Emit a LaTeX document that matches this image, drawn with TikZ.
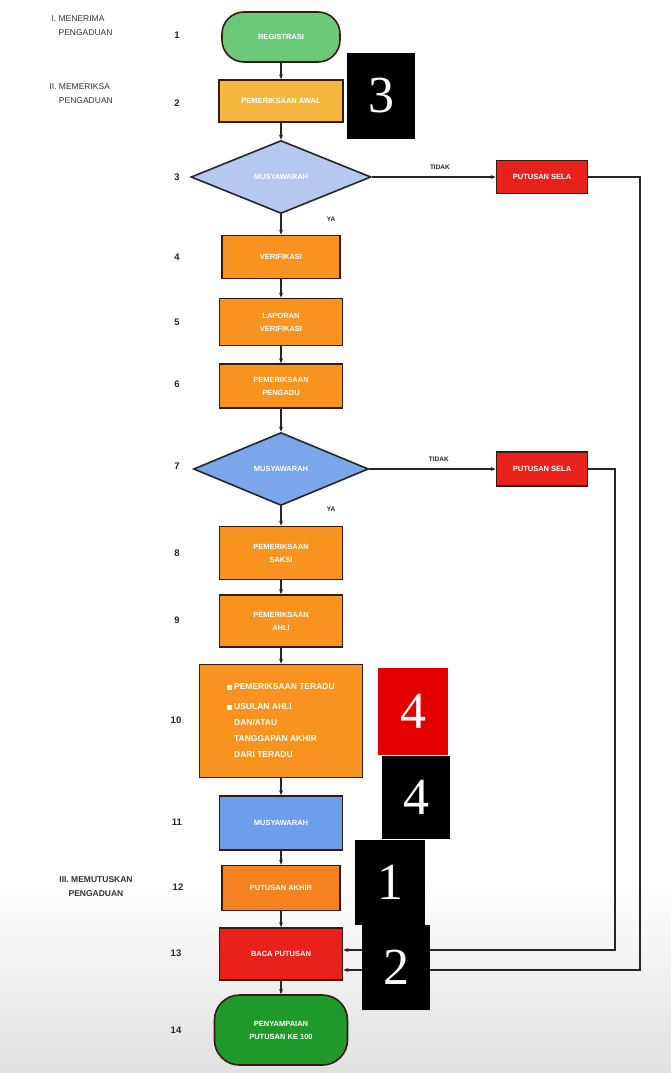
\documentclass[tikz,border=0pt]{standalone}
\usepackage{fontspec}
\setmainfont{Liberation Sans}
\newfontfamily\bignum{Liberation Serif}
\usetikzlibrary{shapes.geometric,arrows.meta}
\definecolor{gA}{HTML}{6CC97A}
\definecolor{yA}{HTML}{F5B83D}
\definecolor{oA}{HTML}{F7931E}
\definecolor{oB}{HTML}{F58220}
\definecolor{rA}{HTML}{E8221A}
\definecolor{bA}{HTML}{B5C8F0}
\definecolor{bB}{HTML}{6D9EEB}
\definecolor{gB}{HTML}{1F9A2A}
\definecolor{edge}{HTML}{3A1A10}
\newcommand{\bulsq}{\rule{4.5pt}{4.5pt}}
\begin{document}
\begin{tikzpicture}[x=1pt,y=-1pt,
  box/.style={draw=edge, line width=1.6pt, inner sep=1pt, align=center,
    text=white, font=\bfseries\fontsize{7.5}{13}\selectfont},
  term/.style={box, rounded corners=22pt},
  dec/.style={box, diamond, draw=black!85, fill=bA, inner sep=0pt, aspect=2.45},
  arr/.style={draw=black!85, line width=1.1pt, -{Stealth[length=5pt,width=4pt]}},
  stepno/.style={font=\bfseries\fontsize{9.5}{10}\selectfont, text=black!85},
  stage/.style={font=\fontsize{8.5}{14}\selectfont, align=left, text=black!80, anchor=north west},
  yn/.style={font=\bfseries\fontsize{6.5}{7}\selectfont, text=black!85},
  tag/.style={minimum width=68pt, minimum height=86pt, inner sep=0pt, text=white,
    font=\bignum\fontsize{52}{52}\selectfont}]
\useasboundingbox (0,0) rectangle (671,1073);
\fill[white] (0,0) rectangle (671,1073);
\shade[top color=white, bottom color=black!12, draw=none] (0,880) rectangle (671,1073);

% stage labels
\node[stage] (st1) at (48,12) {I.\ MENERIMA\\\phantom{I.\ }PENGADUAN};
\node[stage] (st2) at (46,80) {II.\ MEMERIKSA\\\phantom{II.\ }PENGADUAN};
\node[stage, font=\bfseries\fontsize{8.5}{14}\selectfont, align=center, anchor=center] (st3) at (96,887) {III. MEMUTUSKAN\\PENGADUAN};

% main nodes
\node[term, fill=gA, minimum width=118pt, minimum height=50pt] (n1) at (281,37) {REGISTRASI};
\node[box, fill=yA, minimum width=124pt, minimum height=42pt] (n2) at (281,101) {PEMERIKSAAN AWAL};
\node[dec, minimum width=180pt, minimum height=73pt] (d3) at (281,177) {MUSYAWARAH};
\node[box, fill=rA, minimum width=91pt, minimum height=33pt] (s3) at (542,177) {PUTUSAN SELA};
\node[box, fill=oA, minimum width=118pt, minimum height=43pt] (n4) at (281,257) {VERIFIKASI};
\node[box, fill=oA, minimum width=123pt, minimum height=47pt] (n5) at (281,322) {LAPORAN\\VERIFIKASI};
\node[box, fill=oA, minimum width=123pt, minimum height=44pt] (n6) at (281,386) {PEMERIKSAAN\\PENGADU};
\node[dec, fill=bB!80!bA, minimum width=175pt, minimum height=73pt] (d7) at (281,469) {MUSYAWARAH};
\node[box, fill=rA, minimum width=91pt, minimum height=34pt] (s7) at (542,469) {PUTUSAN SELA};
\node[box, fill=oA, minimum width=123pt, minimum height=53pt] (n8) at (281,553) {PEMERIKSAAN\\SAKSI};
\node[box, fill=oA, minimum width=123pt, minimum height=52pt] (n9) at (281,621) {PEMERIKSAAN\\AHLI};
\node[box, fill=oA, minimum width=163pt, minimum height=113pt, align=left,
      font=\bfseries\fontsize{8.5}{16}\selectfont] (n10) at (281,721)
  {\bulsq\ PEMERIKSAAN TERADU\\[4pt]
   \bulsq\ USULAN AHLI\\
   \phantom{\bulsq\ }DAN/ATAU\\
   \phantom{\bulsq\ }TANGGAPAN AKHIR\\
   \phantom{\bulsq\ }DARI TERADU};
\node[box, fill=bB, minimum width=123pt, minimum height=54pt] (n11) at (281,823) {MUSYAWARAH};
\node[box, fill=oB, minimum width=118pt, minimum height=45pt] (n12) at (281,888) {PUTUSAN AKHIR};
\node[box, fill=rA, minimum width=123pt, minimum height=52pt] (n13) at (281,954) {BACA PUTUSAN};
\node[term, fill=gB, minimum width=133pt, minimum height=70pt, rounded corners=25pt] (n14) at (281,1030) {PENYAMPAIAN\\PUTUSAN KE 100};

% step numbers
\node[stepno] (k1) at (177,35) {1};
\node[stepno] (k2) at (177,103) {2};
\node[stepno] (k3) at (177,177) {3};
\node[stepno] (k4) at (177,257) {4};
\node[stepno] (k5) at (177,322) {5};
\node[stepno] (k6) at (177,384) {6};
\node[stepno] (k7) at (177,466) {7};
\node[stepno] (k8) at (177,553) {8};
\node[stepno] (k9) at (177,620) {9};
\node[stepno] (k10) at (176,720) {10};
\node[stepno] (k11) at (177,822) {11};
\node[stepno] (k12) at (178,887) {12};
\node[stepno] (k13) at (176,953) {13};
\node[stepno] (k14) at (176,1030) {14};

% vertical flow
\draw[arr] (n1) -- (n2);
\draw[arr] (n2) -- (d3);
\draw[arr] (d3.south) -- (n4);
\draw[arr] (n4) -- (n5);
\draw[arr] (n5) -- (n6);
\draw[arr] (n6) -- (d7.north);
\draw[arr] (d7.south) -- (n8);
\draw[arr] (n8) -- (n9);
\draw[arr] (n9) -- (n10);
\draw[arr] (n10) -- (n11);
\draw[arr] (n11) -- (n12);
\draw[arr] (n12) -- (n13);
\draw[arr] (n13) -- (n14);

% branches
\draw[arr] (d3.east) -- node[yn, above=4pt, pos=0.55] (t3) {TIDAK} (s3.west);
\draw[arr] (d7.east) -- node[yn, above=4pt, pos=0.55] (t7) {TIDAK} (s7.west);
\node[yn] (y3) at (331,219) {YA};
\node[yn] (y7) at (331,509) {YA};

\coordinate (r1) at (640,970);
\coordinate (r2) at (615,950);
\draw[arr] (s3.east) -| (r1) -- (n13.east |- r1);
\draw[arr] (s7.east) -| (r2) -- (n13.east |- r2);

% overlay tags
\node[tag, fill=black] (b3) at (381,96) {3};
\node[tag, fill=red!90!black, minimum width=70pt, minimum height=87pt] (r4) at (413,711) {4};
\node[tag, fill=black, minimum height=83pt] (b4) at (416,797) {4};
\node[tag, fill=black, minimum width=70pt, minimum height=85pt] (b1) at (390,882) {1};
\node[tag, fill=black, minimum height=85pt] (b2) at (396,967) {2};
\end{tikzpicture}
\end{document}
